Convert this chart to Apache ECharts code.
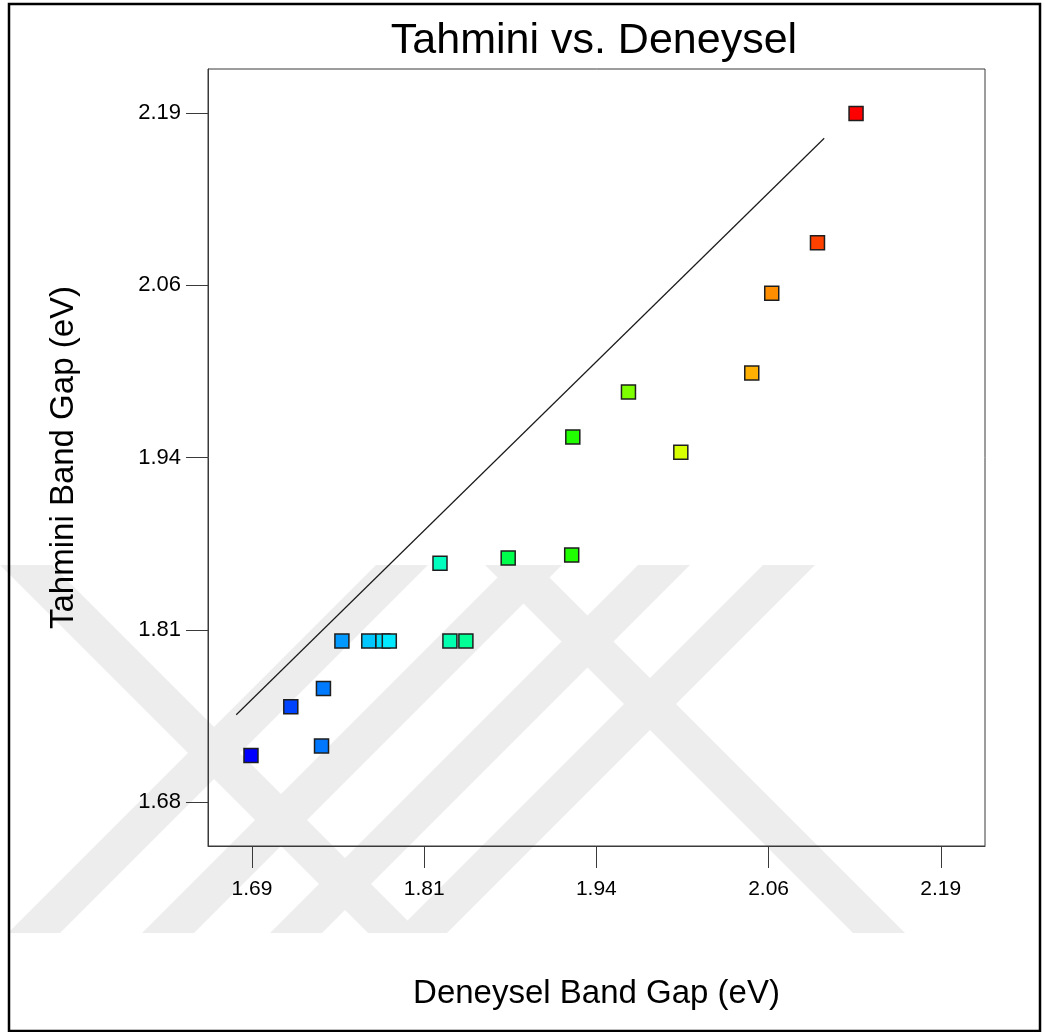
<!DOCTYPE html>
<html>
<head>
<meta charset="utf-8">
<title>Tahmini vs. Deneysel</title>
<script src="https://cdn.jsdelivr.net/npm/echarts@6/dist/echarts.min.js"></script>
<style>
  html, body { margin: 0; padding: 0; background: #ffffff; }
  #chart { width: 1045px; height: 1032px; }
</style>
</head>
<body>
<div id="chart"></div>
<script>
// Experimental (Deneysel) and predicted (Tahmini) band gaps, eV
const deneysel = [1.6868, 1.7157, 1.7394, 1.7380, 1.7528, 1.7723, 1.7826, 1.7872,
                  1.8312, 1.8428, 1.8240, 1.8735, 1.9196, 1.9204, 1.9608, 1.9988,
                  2.0503, 2.0648, 2.0980, 2.1260];
const tahmini  = [1.7145, 1.7505, 1.7641, 1.7215, 1.7991, 1.7991, 1.7991, 1.7991,
                  1.7992, 1.7992, 1.8567, 1.8606, 1.8628, 1.9502, 1.9835, 1.9388,
                  1.9975, 2.0565, 2.0940, 2.1897];

// Reference line end points
const refLineX = [1.6761, 2.1029];
const refLineY = [1.7446, 2.1713];

// Axis ranges, tick positions and their printed labels
const xRange = [1.6556, 2.2196];
const xTicks = [1.6875, 1.8125, 1.9375, 2.0625, 2.1875];
const xTickLabels = ['1.69', '1.81', '1.94', '2.06', '2.19'];
const yRange = [1.64744, 2.22256];
const yTicks = [1.68, 1.8075, 1.935, 2.0625, 2.19];
const yTickLabels = ['1.68', '1.81', '1.94', '2.06', '2.19'];

const FONT = '"Liberation Sans", Arial, sans-serif';

const points = deneysel.map((x, i) => [x, tahmini[i]]);
const linePts = refLineX.map((x, i) => [x, refLineY[i]]);

// Faint page watermark: diagonal stripes behind the chart
function stripe(x0, dir) {
  const top = 565, bottom = 933, w = 52, rise = bottom - top;
  const dx = dir === '/' ? rise : -rise;
  return {
    type: 'polygon',
    shape: { points: [[x0, bottom], [x0 + w, bottom], [x0 + w + dx, top], [x0 + dx, top]] },
    style: { fill: '#ededed' },
    silent: true,
    z: -10
  };
}
const watermark = [
  stripe(8, '/'), stripe(142, '/'), stripe(270, '/'), stripe(395, '/'),
  stripe(368, '\\'), stripe(853, '\\')
];

const chart = echarts.init(document.getElementById('chart'), null, { renderer: 'canvas' });

chart.setOption({
  backgroundColor: '#ffffff',
  animation: false,
  title: {
    text: 'Tahmini vs. Deneysel',
    left: 594,
    top: 20,
    textAlign: 'center',
    padding: 0,
    textStyle: { fontFamily: FONT, fontSize: 43, fontWeight: 'normal', color: '#000' }
  },
  graphic: watermark.concat([
    {
      type: 'rect',
      shape: { x: 9, y: 4, width: 1031, height: 1027 },
      style: { fill: 'none', stroke: '#000', lineWidth: 2.5 },
      silent: true,
      z: 100
    }
  ]),
  grid: {
    left: 208, top: 69, width: 777, height: 777,
    show: true, borderColor: '#3a3a3a', borderWidth: 1, backgroundColor: 'transparent'
  },
  visualMap: {
    show: false,
    type: 'continuous',
    seriesIndex: 0,
    dimension: 0,
    min: Math.min(...deneysel),
    max: Math.max(...deneysel),
    inRange: { color: ['#0000ff', '#00ffff', '#00ff00', '#ffff00', '#ff0000'] }
  },
  xAxis: {
    type: 'value',
    min: xRange[0], max: xRange[1],
    name: 'Deneysel Band Gap (eV)',
    nameLocation: 'middle',
    nameGap: 131,
    nameTextStyle: { fontFamily: FONT, fontSize: 33, color: '#000' },
    axisLine: { show: true, lineStyle: { color: '#3a3a3a', width: 1 } },
    axisTick: { show: true, inside: false, length: 22, customValues: xTicks,
                lineStyle: { color: '#3a3a3a', width: 1 } },
    axisLabel: {
      customValues: xTicks,
      margin: 33,
      fontFamily: FONT, fontSize: 21, color: '#000',
      formatter: v => xTickLabels[xTicks.indexOf(v)]
    },
    splitLine: { show: false }
  },
  yAxis: {
    type: 'value',
    min: yRange[0], max: yRange[1],
    name: 'Tahmini Band Gap (eV)',
    nameLocation: 'middle',
    nameGap: 128,
    nameRotate: 90,
    nameTextStyle: { fontFamily: FONT, fontSize: 33, color: '#000' },
    axisLine: { show: true, lineStyle: { color: '#3a3a3a', width: 1 } },
    axisTick: { show: true, inside: false, length: 22, customValues: yTicks,
                lineStyle: { color: '#3a3a3a', width: 1 } },
    axisLabel: {
      customValues: yTicks,
      margin: 27,
      fontFamily: FONT, fontSize: 22, color: '#000',
      formatter: v => yTickLabels[yTicks.indexOf(v)]
    },
    splitLine: { show: false }
  },
  series: [
    {
      type: 'scatter',
      data: points,
      symbol: 'rect',
      symbolSize: 14,
      itemStyle: { borderColor: '#1e1e1e', borderWidth: 1.5, opacity: 1 },
      z: 3
    },
    {
      type: 'line',
      data: linePts,
      symbol: 'none',
      lineStyle: { color: '#1a1a1a', width: 1.2 },
      silent: true,
      z: 2
    }
  ]
});
</script>
</body>
</html>
